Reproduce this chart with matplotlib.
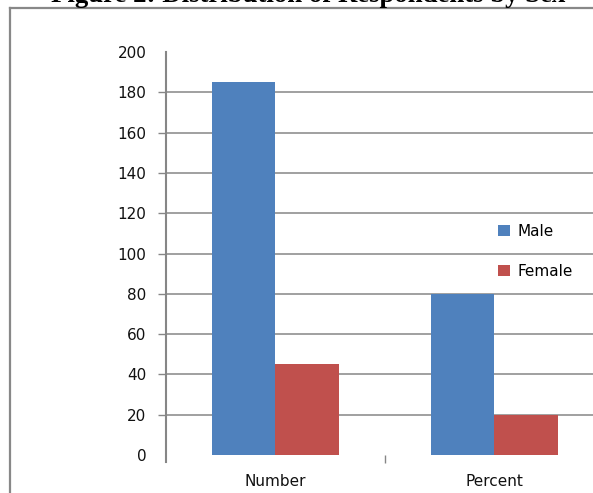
import matplotlib.pyplot as plt
from matplotlib.lines import Line2D
import numpy as np

categories = ['Number', 'Percent']
male = [185, 80]
female = [45, 20]
yticks = [0, 20, 40, 60, 80, 100, 120, 140, 160, 180, 200]

W, H = 593, 493
fig = plt.figure(figsize=(W / 100, H / 100), dpi=100)
plt.rcParams['font.family'] = 'DejaVu Sans'

# plot area runs past the right edge of the figure
ax = fig.add_axes([166 / W, 1 - 455 / H, (604 - 166) / W, (455 - 52) / H])

x = np.arange(len(categories))
bw = 0.288
ax.bar(x - bw / 2, male, bw, color='#4F81BD', label='Male', zorder=3)
ax.bar(x + bw / 2, female, bw, color='#C0504D', label='Female', zorder=3)

ax.set_xlim(-0.5, 1.5)
ax.set_ylim(0, 200)
ax.set_yticks(yticks)
ax.set_xticks(x)
ax.set_xticklabels(categories)
ax.set_xticks([0.5, 1.5], minor=True)

grey = '#868686'
ax.yaxis.grid(True, color=grey, linewidth=1.1)
ax.get_ygridlines()[0].set_visible(False)
ax.get_ygridlines()[-1].set_visible(False)
ax.set_axisbelow(True)

for s in ['top', 'right', 'bottom']:
    ax.spines[s].set_visible(False)
ax.spines['left'].set_color(grey)
ax.spines['left'].set_linewidth(1.5)
ax.spines['left'].set_bounds(-3.5, 200)

ax.tick_params(axis='y', length=6, width=1, color=grey, pad=8,
               labelsize=11, labelcolor='#111111')
ax.tick_params(axis='x', which='major', length=0, pad=14,
               labelsize=11, labelcolor='#111111')
ax.tick_params(axis='x', which='minor', length=5.5, width=1, color=grey)
for t in (ax.yaxis.get_major_ticks()[0], ax.yaxis.get_major_ticks()[-1]):
    t.tick1line.set_visible(False)

ax.legend(loc='upper left', bbox_to_anchor=(492 / W, 1 - 218 / H),
          bbox_transform=fig.transFigure, frameon=False, fontsize=11,
          handlelength=0.75, handleheight=0.75, handletextpad=0.5,
          labelspacing=1.6, borderaxespad=0)

# outer chart frame
fig.add_artist(Line2D([10 / W, 1.0], [1 - 8 / H, 1 - 8 / H], color='#888888', linewidth=1.6))
fig.add_artist(Line2D([10 / W, 10 / W], [0, 1 - 8 / H], color='#888888', linewidth=1.6))

fig.text(308 / W, 1 - 1.5 / H, 'Figure 2: Distribution of Respondents by Sex',
         ha='center', va='baseline', fontsize=19.3, fontweight='bold',
         family='Liberation Serif')

fig.savefig('out.png', dpi=100)
